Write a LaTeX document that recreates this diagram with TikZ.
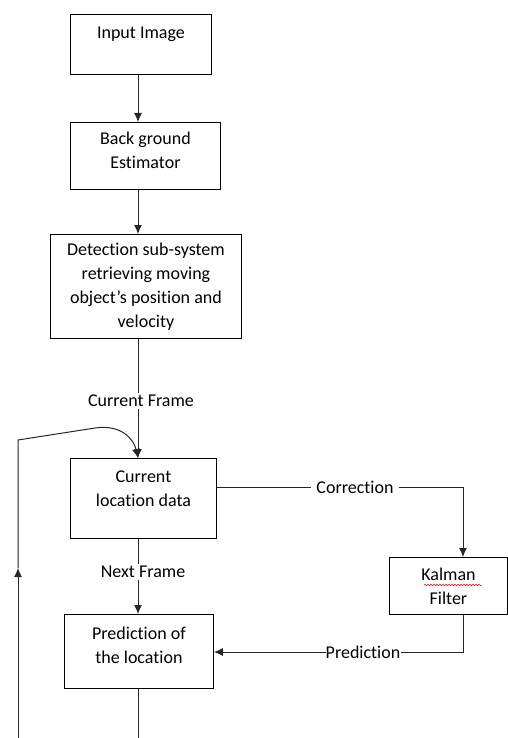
\documentclass[tikz,border=0pt]{standalone}
\usepackage{fontspec}
\setmainfont{Carlito}[Ligatures={TeX,NoCommon}]
\usetikzlibrary{arrows.meta,decorations.pathmorphing}

\begin{document}
\begin{tikzpicture}[
  x=1pt,y=-1pt,
  font=\fontsize{18}{24}\selectfont,
  box/.style={draw,align=center,anchor=north west,inner sep=0pt,line width=0.9pt},
  lbl/.style={fill=white,inner sep=2pt},
  wire/.style={line width=1pt,black!85},
  arr/.style={wire,-{Latex[length=9pt,width=8pt]}}
]
\useasboundingbox (0,0) rectangle (508,738);

% processing chain
\node[box,minimum width=141pt,minimum height=60pt] (input) at (70,14) {Input Image\\~};
\node[box,minimum width=150pt,minimum height=67pt,text depth=12pt] (estim) at (70,122) {Back ground\\Estimator};
\node[box,minimum width=191pt,minimum height=104pt] (detect) at (50,234) {Detection sub-system\\retrieving moving\\object's position and\\velocity};
\node[box,minimum width=146pt,minimum height=80pt,text depth=20pt] (cur) at (70,458) {Current\\location data};
\node[box,minimum width=118pt,minimum height=57pt] (kalman) at (389,557) {Kalman\\Filter};
\node[box,minimum width=149pt,minimum height=74pt,text depth=12pt] (pred) at (64,614) {Prediction of\\the location};

% labels sitting on the lines
\node[lbl] (curframe) at (141,401) {Current Frame};
\node[lbl] (nextframe) at (143,572) {Next Frame};
\node[lbl,inner xsep=5pt] (corr) at (355,487) {Correction};
\node[lbl,inner xsep=0pt] (predlbl) at (363,652) {Prediction};

\coordinate (spine) at (138,0);
\coordinate (kx) at (463,0);
\coordinate (fbtop) at (18,440);
\coordinate (fbmid) at (18,568);
\coordinate (fbbot) at (18,738);
\coordinate (fbbend) at (95,428);
\coordinate (predend) at (138,738);

\draw[arr] (input.south -| spine) -- (estim.north -| spine);
\draw[arr] (estim.south -| spine) -- (detect.north -| spine);
\draw[wire] (detect.south -| spine) -- (curframe.north -| spine);
\draw[arr] (curframe.south -| spine) -- (cur.north -| spine);

% correction / prediction loop through the filter
\draw[wire] (cur.east |- corr) -- (corr.west);
\draw[arr] (corr.east) -- (corr -| kx) -- (kalman.north -| kx);
\draw[wire] (kalman.south -| kx) -- (predlbl -| kx) -- (predlbl.east);
\draw[arr] (predlbl.west) -- (pred.east |- predlbl);

\draw[wire] (cur.south -| spine) -- (nextframe.north -| spine);
\draw[arr] (nextframe.south -| spine) -- (pred.north -| spine);
\draw[wire] (pred.south -| spine) -- (predend);

% feedback back to the current frame
\draw[arr] (fbbot) -- (fbmid);
\draw[arr] (fbmid) -- (fbtop) -- (fbbend) .. controls (122,424) and (134,440) .. (cur.north -| spine);

% spell-check squiggle
\draw[red,decorate,decoration={snake,amplitude=0.8pt,segment length=3pt},line width=0.5pt] (424,585) -- (482,585);
\end{tikzpicture}
\end{document}
